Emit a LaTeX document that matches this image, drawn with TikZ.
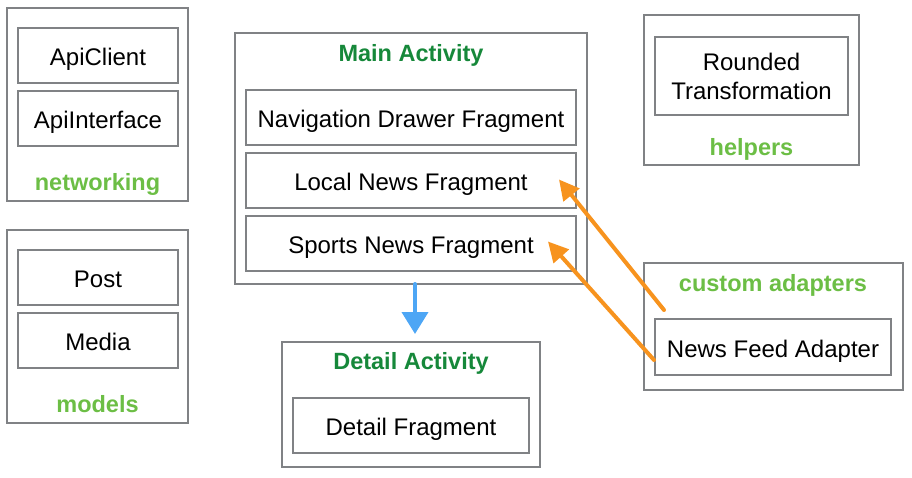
\documentclass[tikz,border=0pt]{standalone}
\usepackage{fontspec}
\setmainfont{Liberation Sans}
\usepackage{tikz}
\usetikzlibrary{positioning}
\usetikzlibrary{arrows.meta}
\definecolor{boxgray}{HTML}{808285}
\definecolor{darkgreen}{HTML}{16883A}
\definecolor{lightgreen}{HTML}{6CBE45}
\definecolor{arrorange}{HTML}{F7931E}
\definecolor{arrblue}{HTML}{4DA6F5}

\begin{document}
\begin{tikzpicture}[x=1pt,y=-1pt, line width=2pt,
  box/.style={draw=boxgray, rectangle, inner sep=0pt, text height=20pt, text depth=0pt, font=\fontsize{24}{28}\selectfont},
  pkg/.style={draw=boxgray, rectangle, inner sep=0pt},
  pkgname/.style={text=lightgreen, text height=17pt, text depth=0pt, font=\fontsize{23.5}{28}\selectfont\bfseries},
  actname/.style={text=darkgreen, text height=17pt, text depth=0pt, font=\fontsize{23.5}{28}\selectfont\bfseries},
  sketch/.style={line width=4pt, line cap=round}]
\useasboundingbox (0,0) rectangle (912,478);
% networking
\node[pkg, minimum width=181pt, minimum height=193pt] (networking) at (97.5,104.5) {};
\node[box, minimum width=160pt, minimum height=55pt] (apiclient) at (98,55.5) {ApiClient};
\node[box, minimum width=160pt, minimum height=55pt] (apiinterface) at (98,118.5) {ApiInterface};
\node[pkgname] (networkinglbl) at (97.5,182) {networking};
% models
\node[pkg, minimum width=181pt, minimum height=193pt] (models) at (97.5,326.5) {};
\node[box, minimum width=160pt, minimum height=55pt] (post) at (98,277.5) {Post};
\node[box, minimum width=160pt, minimum height=55pt] (media) at (98,340.5) {Media};
\node[pkgname] (modelslbl) at (97.5,404) {models};
% main activity
\node[pkg, minimum width=352pt, minimum height=251pt] (main) at (411,158.5) {};
\node[actname] (mainlbl) at (411,53) {Main Activity};
\node[box, minimum width=330pt, minimum height=55pt] (navdrawer) at (411,117.5) {Navigation Drawer Fragment};
\node[box, minimum width=330pt, minimum height=55pt] (localnews) at (411,180.5) {Local News Fragment};
\node[box, minimum width=330pt, minimum height=55pt] (sportsnews) at (411,243.5) {Sports News Fragment};
% detail activity
\node[pkg, minimum width=258pt, minimum height=125pt] (detail) at (411,404.5) {};
\node[actname] (detaillbl) at (411,361) {Detail Activity};
\node[box, minimum width=236pt, minimum height=55pt] (detailfrag) at (411,425.5) {Detail Fragment};
% helpers
\node[pkg, minimum width=215pt, minimum height=150pt] (helpers) at (751.5,90) {};
\node[box, minimum width=193pt, minimum height=78pt, text height=, text depth=, align=center] (rounded) at (751.5,76.5) {Rounded\\[1pt]Transformation};
\node[pkgname] (helperslbl) at (751.5,147) {helpers};
% custom adapters
\node[pkg, minimum width=259pt, minimum height=127pt] (adapters) at (773.5,326.5) {};
\node[pkgname] (adapterslbl) at (773,283) {custom adapters};
\node[box, minimum width=236pt, minimum height=56pt] (newsfeed) at (773,347) {News Feed Adapter};
% arrows
\coordinate (mainout) at (415,284);
\coordinate (detailin) at (415,334);
\draw[sketch, arrblue, -{Triangle[length=22pt,width=26pt]}] (mainout) -- (detailin);
\draw[sketch, arrorange, -{Triangle[length=20pt,width=20pt]}] ([xshift=10pt,yshift=8pt]newsfeed.north west) -- ([xshift=-18pt,yshift=1pt]localnews.east);
\draw[sketch, arrorange, -{Triangle[length=20pt,width=20pt]}] ([yshift=-13pt]newsfeed.west) -- ([xshift=-29pt,yshift=2pt]sportsnews.east);
\end{tikzpicture}
\end{document}
